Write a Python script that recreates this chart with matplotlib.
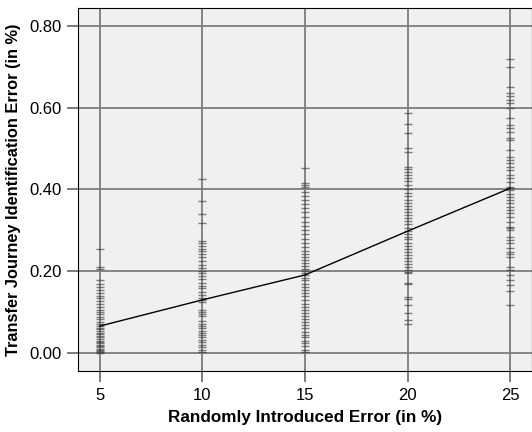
import numpy as np
import matplotlib.pyplot as plt

plt.rcParams['font.family'] = ['Liberation Sans', 'DejaVu Sans']

levels = [5, 10, 15, 20, 25]
g5 = [0.254, 0.21, 0.205, 0.178, 0.17, 0.162, 0.155, 0.148, 0.14, 0.135, 0.128, 0.12,
      0.112, 0.105, 0.1, 0.095, 0.088, 0.082, 0.075, 0.07, 0.066, 0.062, 0.058, 0.055,
      0.05, 0.046, 0.042, 0.038, 0.035, 0.03, 0.027, 0.024, 0.02, 0.017, 0.014, 0.011,
      0.008, 0.005, 0.003, 0.001]
g10 = [0.426, 0.372, 0.339, 0.317, 0.274, 0.268, 0.262, 0.255, 0.25, 0.243, 0.235, 0.225,
       0.215, 0.208, 0.2, 0.195, 0.188, 0.18, 0.172, 0.165, 0.158, 0.15, 0.143, 0.135,
       0.13, 0.125, 0.105, 0.1, 0.095, 0.09, 0.078, 0.072, 0.066, 0.06, 0.055, 0.05,
       0.044, 0.038, 0.032, 0.026, 0.02, 0.014, 0.008, 0.003]
g15 = [0.452, 0.415, 0.41, 0.405, 0.395, 0.385, 0.375, 0.365, 0.355, 0.345, 0.332, 0.32,
       0.31, 0.3, 0.29, 0.28, 0.27, 0.26, 0.25, 0.242, 0.235, 0.228, 0.22, 0.212, 0.205,
       0.2, 0.195, 0.19, 0.184, 0.178, 0.17, 0.162, 0.155, 0.148, 0.14, 0.13, 0.12, 0.112,
       0.105, 0.098, 0.09, 0.083, 0.075, 0.068, 0.06, 0.052, 0.045, 0.038, 0.03, 0.024,
       0.016, 0.008, 0.003]
g20 = [0.586, 0.559, 0.539, 0.502, 0.491, 0.456, 0.45, 0.443, 0.435, 0.428, 0.42, 0.41,
       0.4, 0.392, 0.385, 0.375, 0.368, 0.36, 0.352, 0.345, 0.338, 0.33, 0.322, 0.315,
       0.305, 0.298, 0.292, 0.285, 0.278, 0.27, 0.262, 0.255, 0.248, 0.24, 0.232, 0.225,
       0.218, 0.21, 0.203, 0.198, 0.195, 0.172, 0.168, 0.138, 0.132, 0.117, 0.097, 0.081,
       0.07]
g25 = [0.72, 0.70, 0.651, 0.636, 0.628, 0.62, 0.611, 0.599, 0.574, 0.558, 0.55, 0.541,
       0.526, 0.521, 0.497, 0.48, 0.472, 0.464, 0.456, 0.448, 0.435, 0.427, 0.419, 0.407,
       0.403, 0.399, 0.39, 0.382, 0.374, 0.366, 0.358, 0.35, 0.342, 0.333, 0.321, 0.309,
       0.305, 0.301, 0.285, 0.277, 0.268, 0.256, 0.248, 0.242, 0.236, 0.211, 0.203, 0.191,
       0.179, 0.166, 0.152, 0.117]
groups = [g5, g10, g15, g20, g25]
means = [0.066, 0.130, 0.191, 0.298, 0.403]
yticks = [0, 0.2, 0.4, 0.6, 0.8]

fig = plt.figure(figsize=(5.32, 4.32), dpi=100)
ax = fig.add_axes([0.1466, 0.1412, 0.8534, 0.8403])
ax.set_facecolor('#f0f0f0')

for lvl, vals in zip(levels, groups):
    ax.plot([lvl] * len(vals), vals, '_', color='#333333', ms=6, mew=1, alpha=0.6,
            zorder=3)
ax.plot(levels, means, '-', color='black', lw=1, zorder=4)

ax.set_xlim(3.93, 26.07)
ax.set_ylim(-0.044, 0.844)
ax.set_xticks(levels)
ax.set_yticks(yticks)
ax.set_yticklabels(['%.2f' % v for v in yticks])
ax.grid(True, color='#7c7c7c', lw=1.3, zorder=1)
ax.set_axisbelow(True)
ax.tick_params(labelsize=12, length=8, color='#666666', width=1.2, pad=4)
for s in ax.spines.values():
    s.set_color('black')

ax.set_xlabel('Randomly Introduced Error (in %)', fontsize=12.3, fontweight='bold',
              labelpad=5)
ax.set_ylabel('Transfer Journey Identification Error (in %)', fontsize=11.8,
              fontweight='bold', labelpad=6)

fig.savefig('out.png', dpi=100)
